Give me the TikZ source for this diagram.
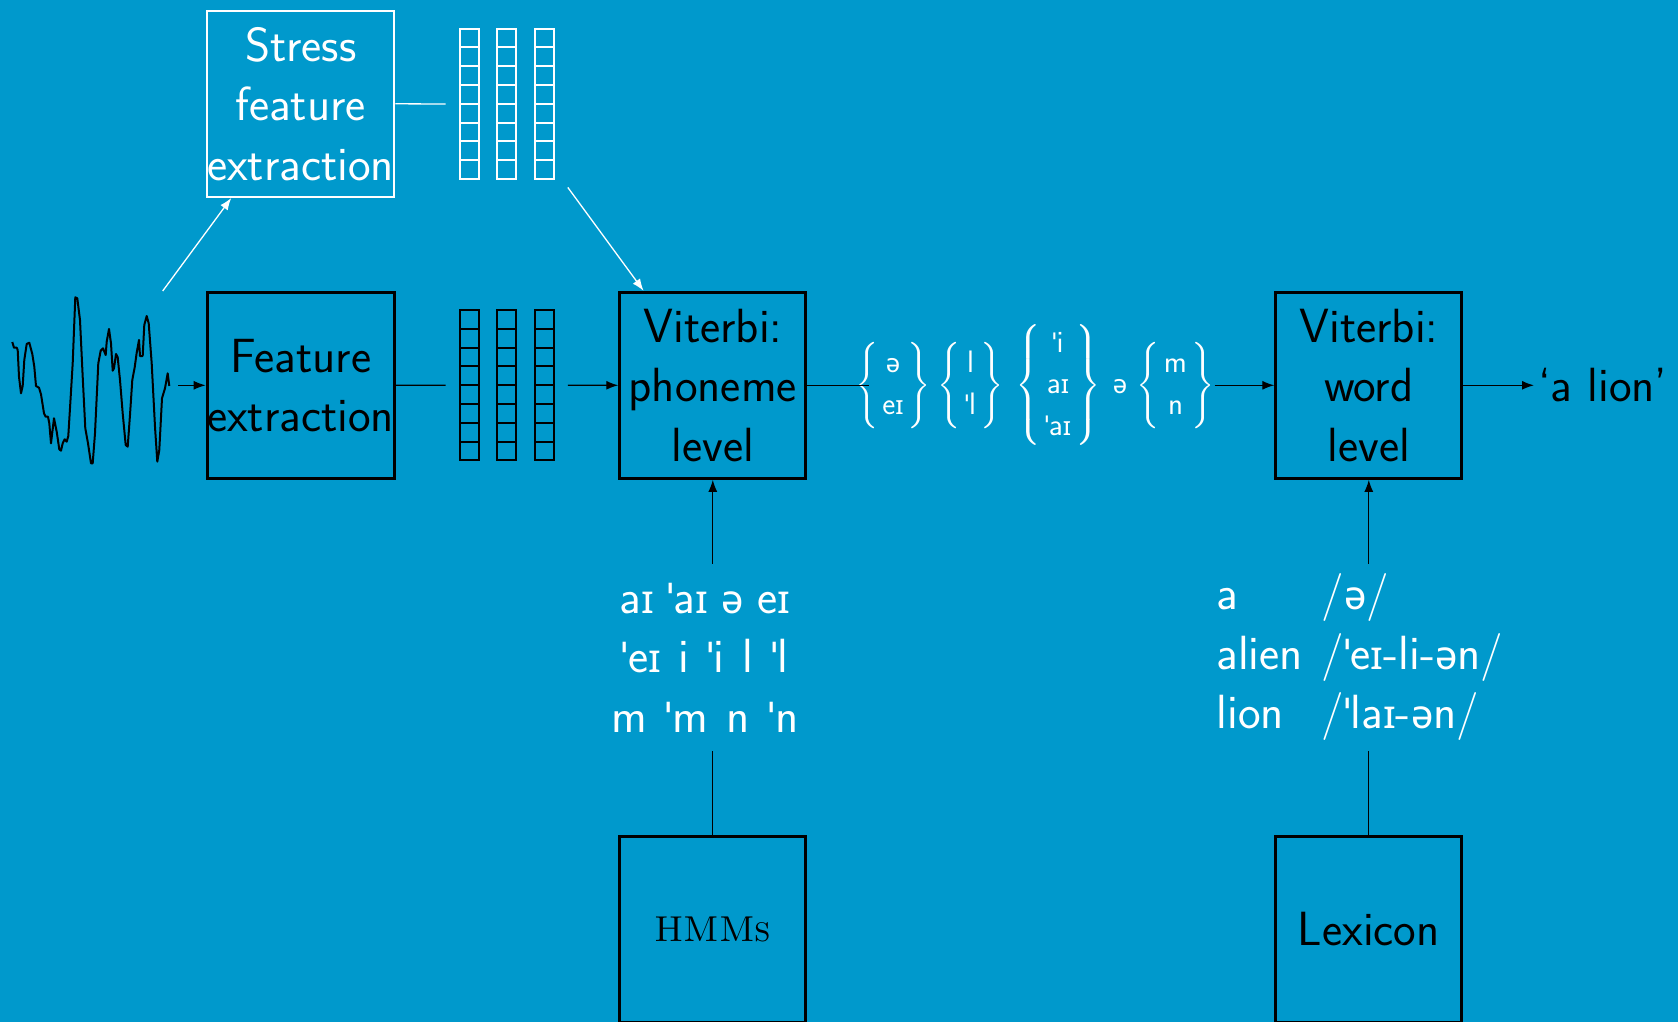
\documentclass[tikz,border=0pt]{standalone}
\usepackage{exscale}
\usepackage{fontspec}
\newfontfamily\ipafont{Noto Sans}[Scale=0.83]
\usetikzlibrary{arrows.meta}
\definecolor{bgblue}{RGB}{0,153,204}
% IPA glyphs missing from Latin Modern Sans
\newcommand{\ipaE}{{\ipafont ə}}
\newcommand{\ipaI}{{\ipafont ɪ}}
\newcommand{\ipaS}{{\ipafont ˈ}}
\begin{document}
\begin{tikzpicture}[x=0.5pt,y=-0.5pt,
  txt/.style={font=\fontsize{24}{29.7}\selectfont\sffamily},
  box/.style={draw=black,line width=1.5pt,minimum width=93pt,minimum height=93pt,inner sep=0pt,align=center,txt},
  wbox/.style={box,draw=white,text=white,line width=1.2pt},
  conn/.style={line width=0.65pt},
  >={Latex[length=6pt,width=4.5pt]},
  cell/.style={line width=1pt},
  vec/.style={inner sep=0pt,minimum width=60.7pt,minimum height=83pt},
  grp/.style={inner sep=0pt,text=white,font=\fontsize{15.5}{20.75}\selectfont\sffamily},
  list/.style={txt,text=white,minimum height=93.5pt,inner sep=0pt}
]
\useasboundingbox (0,0) rectangle (1678,1022);
\fill[bgblue] (0,0) rectangle (1678,1022);

% processing boxes
\node[wbox] (stress) at (300.7,103.8) {Stress\\feature\\extraction};
\node[box] (feat) at (300.7,385.3) {Feature\\extraction};
\node[box] (vp) at (712.8,385.3) {Viterbi:\\phoneme\\level};
\node[box] (vw) at (1368.8,385.3) {Viterbi:\\word\\level};
\node[box,font=\fontsize{18}{22}\selectfont\rmfamily] (hmm) at (712.8,929) {\textsc{HMMs}};
\node[box] (lexbox) at (1368.8,929) {Lexicon};

% feature vector grids
\node[vec] (topvec) at (506.7,104) {};
\node[vec] (botvec) at (506.7,385.2) {};
\foreach \c in {0,1,2}{
  \foreach \r in {0,...,7}{
    \draw[white,cell] ({459.7+37.5*\c},{28.7+18.8*\r}) rectangle ++(19,18.8);
    \draw[black,cell] ({459.7+37.5*\c},{310+18.8*\r}) rectangle ++(19,18.8);
  }
}

% speech waveform
\draw[line width=1pt,line join=round] plot coordinates {
(12.3,342) (14,347.7) (16.7,347.7) (17.7,350) (19,376.7) (21,393.3) (22.7,386)
(24.3,360) (26.7,344) (29.3,342.7) (32.3,354) (34.3,366.7) (36,386) (39,387.7)
(41,394.3) (44,413.3) (45.7,416.7) (48,416.7) (49.3,423.3) (51,443.3) (54,418.3)
(56.7,431.7) (59.3,449.3) (61,450.7) (62.7,443.3) (64.7,439.3) (66.7,441.7)
(68.3,436) (70,408.3) (72.7,363.3) (75.3,297.3) (77.3,298.3) (80,320) (82.7,376.7)
(85.3,428.3) (88,443.3) (91,463.3) (92.7,463.3) (95,433.3) (98.3,363.3) (100.7,350.7)
(103,348.3) (105.7,355) (106.7,341.7) (109,329) (111,343.3) (112.7,370.7) (114,368.3)
(116,354) (117.7,357.3) (120,380) (122.7,413.3) (125.7,445) (127.7,446.7) (130,415)
(132.3,380) (134.7,367.3) (136.7,352.7) (139,340) (140,356) (142.7,356) (144.3,325)
(146.7,316) (148.7,323.3) (151.7,363.3) (155,426.7) (157.3,461.7) (159.3,450)
(162,398.3) (165,388.3) (167.7,373.3) (169.3,386)};
\coordinate (waveout) at (178,385.3);
\coordinate (wavetop) at (162.7,291);

% front-end connectors
\draw[conn,->] (waveout) -- (feat.west);
\draw[conn,white,->] (wavetop) -- (stress);
\draw[conn,white] (stress.east) -- (topvec.west);
\draw[conn] (feat.east) -- (botvec.west);
\draw[conn,->] (botvec.east) -- (vp.west);
\draw[conn,white,->] (topvec.south east) -- (vp);

% phoneme lattice
\node[grp] (g1) at (893,385.3) {$\left\{\begin{array}{@{\hspace{2pt}}c@{\hspace{2pt}}}\mbox{\ipaE}\\\mbox{e\ipaI}\end{array}\right\}$};
\node[grp] (g2) at (970.5,385.3) {$\left\{\begin{array}{@{\hspace{2pt}}c@{\hspace{2pt}}}\mbox{l}\\\mbox{\ipaS l}\end{array}\right\}$};
\node[grp] (g3) at (1058,385.3) {$\left\{\begin{array}{@{\hspace{2pt}}c@{\hspace{2pt}}}\mbox{\ipaS i}\\\mbox{a\ipaI}\\\mbox{\ipaS a\ipaI}\end{array}\right\}$};
\node[grp] (sch) at (1120,387) {\ipaE};
\node[grp] (g4) at (1175.5,385.3) {$\left\{\begin{array}{@{\hspace{2pt}}c@{\hspace{2pt}}}\mbox{m}\\\mbox{n}\end{array}\right\}$};
\draw[conn] (vp.east) -- ([xshift=7pt]g1.west);
\draw[conn,->] (g4.east) -- (vw.west);

% recognised output
\node[txt,anchor=west,inner sep=2pt] (out) at (1534,385.3) {‘a lion’};
\draw[conn,->] (vw.east) -- (out.west);

% knowledge sources
\node[list,align=center] (phon) at (705,657.5) {%
  a\ipaI\hspace{6.6pt}\ipaS a\ipaI\hspace{6.6pt}\ipaE\hspace{6.6pt}e\ipaI\\
  \ipaS e\ipaI\hspace{9pt}i\hspace{9pt}\ipaS i\hspace{9pt}l\hspace{9pt}\ipaS l\\
  m\hspace{9.4pt}\ipaS m\hspace{9.4pt}n\hspace{9.4pt}\ipaS n};
\node[list] (lex) at (1360,657.5) {\begin{tabular}{@{}l@{\hspace{9.5pt}}l@{}}
a & /\ipaE/\\
alien & /\ipaS e\ipaI-li-\ipaE n/\\
lion & /\ipaS la\ipaI-\ipaE n/
\end{tabular}};
\draw[conn] (hmm.north) -- (hmm.north |- phon.south);
\draw[conn,->] (vp.south |- phon.north) -- (vp.south);
\draw[conn] (lexbox.north) -- (lexbox.north |- lex.south);
\draw[conn,->] (lexbox.north |- lex.north) -- (vw.south);
\end{tikzpicture}
\end{document}
